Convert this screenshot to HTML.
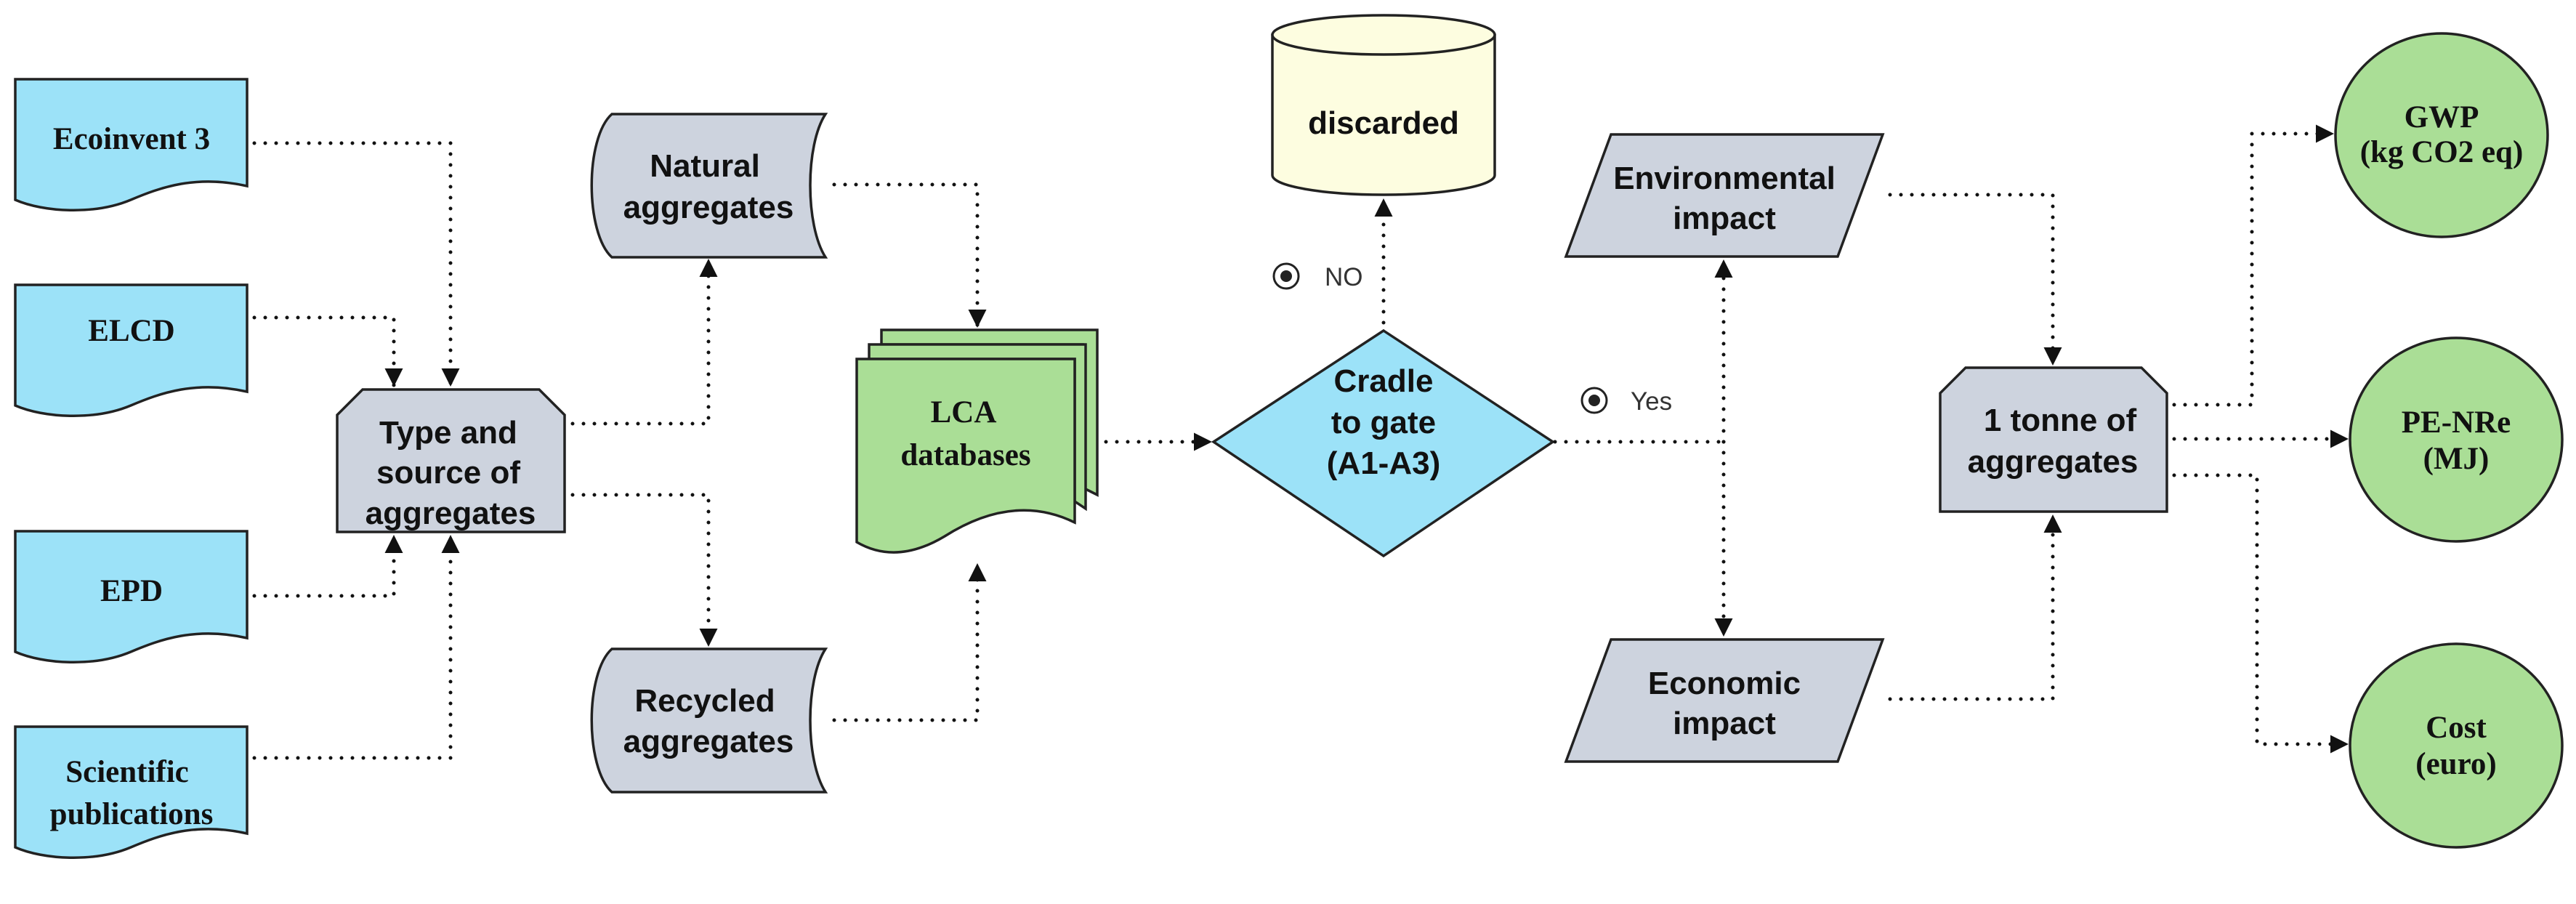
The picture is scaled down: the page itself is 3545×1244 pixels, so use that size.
<!DOCTYPE html>
<html><head><meta charset="utf-8"><style>
html,body{margin:0;padding:0;background:#fff;}
svg{display:block;}
.sans{font-family:"Liberation Sans",sans-serif;font-weight:bold;font-size:44px;fill:#111;}
.serif{font-family:"Liberation Serif",serif;font-weight:bold;font-size:43px;fill:#111;}
.dot{fill:none;stroke:#111;stroke-width:5;stroke-dasharray:0 15;stroke-linecap:round;}
.sh{stroke:#222;stroke-width:3.5;}
</style></head><body>
<svg width="3545" height="1244" viewBox="0 0 3545 1244" xmlns="http://www.w3.org/2000/svg">
<defs>
<marker id="a" viewBox="0 0 10 10" refX="10" refY="5" markerWidth="5" markerHeight="5" markerUnits="strokeWidth" orient="auto">
<path d="M0,0 L10,5 L0,10 Z" fill="#111"/></marker>
</defs>
<g class="sh" fill="#9ce2f8">
<path d="M21,109 H340 V256 C270,240 220,258 180,275 C130,296 60,292 21,275 Z"/>
<path d="M21,392 H340 V539 C270,523 220,541 180,558 C130,579 60,575 21,558 Z"/>
<path d="M21,731 H340 V878 C270,862 220,880 180,897 C130,918 60,914 21,897 Z"/>
<path d="M21,1000 H340 V1147 C270,1131 220,1149 180,1166 C130,1187 60,1183 21,1166 Z"/>
</g>
<text class="serif" x="181" y="205" text-anchor="middle">Ecoinvent 3</text>
<text class="serif" x="181" y="469" text-anchor="middle">ELCD</text>
<text class="serif" x="181" y="827" text-anchor="middle">EPD</text>
<text class="serif" x="175" y="1076" text-anchor="middle">Scientific</text>
<text class="serif" x="181" y="1134" text-anchor="middle">publications</text>
<path class="sh" fill="#cdd3de" d="M499,536 H742 L777,571 V732 H464 V571 Z"/>
<text class="sans" x="617" y="610" text-anchor="middle">Type and</text>
<text class="sans" x="617" y="665" text-anchor="middle">source of</text>
<text class="sans" x="620" y="721" text-anchor="middle">aggregates</text>
<path class="sh" fill="#cdd3de" d="M842,157 H1136 C1108,200 1108,310 1136,354 H842 C805,320 805,190 842,157 Z"/>
<text class="sans" x="970" y="243" text-anchor="middle">Natural</text>
<text class="sans" x="975" y="300" text-anchor="middle">aggregates</text>
<path class="sh" fill="#cdd3de" d="M842,893 H1136 C1108,936 1108,1046 1136,1090 H842 C805,1056 805,926 842,893 Z"/>
<text class="sans" x="970" y="979" text-anchor="middle">Recycled</text>
<text class="sans" x="975" y="1035" text-anchor="middle">aggregates</text>
<g class="sh" fill="#aade96">
<path d="M1213,454 H1510 V681 L1490,671 V474 H1213 Z"/>
<path d="M1196,474 H1494 V700 L1479,690 V494 H1196 Z"/>
<path d="M1179,494 H1479 V719 C1420,690 1360,700 1300,738 C1250,768 1210,764 1179,746 Z"/>
</g>
<text class="serif" x="1326" y="581" text-anchor="middle">LCA</text>
<text class="serif" x="1329" y="640" text-anchor="middle">databases</text>
<path class="sh" fill="#9ce2f8" d="M1904,455 L2137,608 L1904,765 L1670,608 Z"/>
<text class="sans" x="1904" y="539" text-anchor="middle">Cradle</text>
<text class="sans" x="1904" y="596" text-anchor="middle">to gate</text>
<text class="sans" x="1904" y="652" text-anchor="middle">(A1-A3)</text>
<path class="sh" fill="#fdfde0" d="M1751,48 V241 A153,27 0 0 0 2057,241 V48 Z"/>
<ellipse class="sh" fill="#fdfde0" cx="1904" cy="48" rx="153" ry="27"/>
<text class="sans" x="1904" y="184" text-anchor="middle">discarded</text>
<circle cx="1770" cy="380" r="17" fill="#fff" stroke="#222" stroke-width="3"/><circle cx="1770" cy="380" r="8" fill="#222"/>
<text x="1823" y="393" font-family="Liberation Sans,sans-serif" font-size="35" fill="#333">NO</text>
<circle cx="2194" cy="551" r="17" fill="#fff" stroke="#222" stroke-width="3"/><circle cx="2194" cy="551" r="8" fill="#222"/>
<text x="2244" y="564" font-family="Liberation Sans,sans-serif" font-size="35" fill="#333">Yes</text>
<path class="sh" fill="#cdd3de" d="M2217,185 H2591 L2529,353 H2155 Z"/>
<text class="sans" x="2373" y="260" text-anchor="middle">Environmental</text>
<text class="sans" x="2373" y="315" text-anchor="middle">impact</text>
<path class="sh" fill="#cdd3de" d="M2217,880 H2591 L2529,1048 H2155 Z"/>
<text class="sans" x="2373" y="955" text-anchor="middle">Economic</text>
<text class="sans" x="2373" y="1010" text-anchor="middle">impact</text>
<path class="sh" fill="#cdd3de" d="M2705,506 H2947 L2982,541 V704 H2670 V541 Z"/>
<text class="sans" x="2835" y="593" text-anchor="middle">1 tonne of</text>
<text class="sans" x="2825" y="650" text-anchor="middle">aggregates</text>
<g class="sh" fill="#aade96">
<ellipse cx="3360" cy="186" rx="146" ry="140"/>
<ellipse cx="3380" cy="605" rx="146" ry="140"/>
<ellipse cx="3380" cy="1026" rx="146" ry="140"/>
</g>
<text class="serif" x="3360" y="175" text-anchor="middle" font-size="40">GWP</text>
<text class="serif" x="3360" y="223" text-anchor="middle" font-size="37">(kg CO2 eq)</text>
<text class="serif" x="3380" y="595" text-anchor="middle" font-size="40">PE-NRe</text>
<text class="serif" x="3380" y="645" text-anchor="middle" font-size="38">(MJ)</text>
<text class="serif" x="3380" y="1015" text-anchor="middle" font-size="40">Cost</text>
<text class="serif" x="3380" y="1065" text-anchor="middle" font-size="38">(euro)</text>
<g class="dot" marker-end="url(#a)">
<path d="M350,197 H620 V532"/>
<path d="M350,437 H542 V532"/>
<path d="M350,820 H542 V736"/>
<path d="M350,1043 H620 V736"/>
<path d="M788,583 H975 V356"/>
<path d="M788,681 H975 V890"/>
<path d="M1148,254 H1345 V451"/>
<path d="M1148,991 H1345 V775"/>
<path d="M1522,608 H1668"/>
<path d="M1904,444 V273"/>
<path d="M2372,608 V357"/>
<path d="M2372,608 V876"/>
<path d="M2601,268 H2825 V503"/>
<path d="M2601,962 H2825 V708"/>
<path d="M2992,557 H3099 V184 H3212"/>
<path d="M2992,604 H3232"/>
<path d="M2992,654 H3106 V1024 H3232"/>
</g>
<path class="dot" d="M2140,608 H2372"/>
</svg>
</body></html>
